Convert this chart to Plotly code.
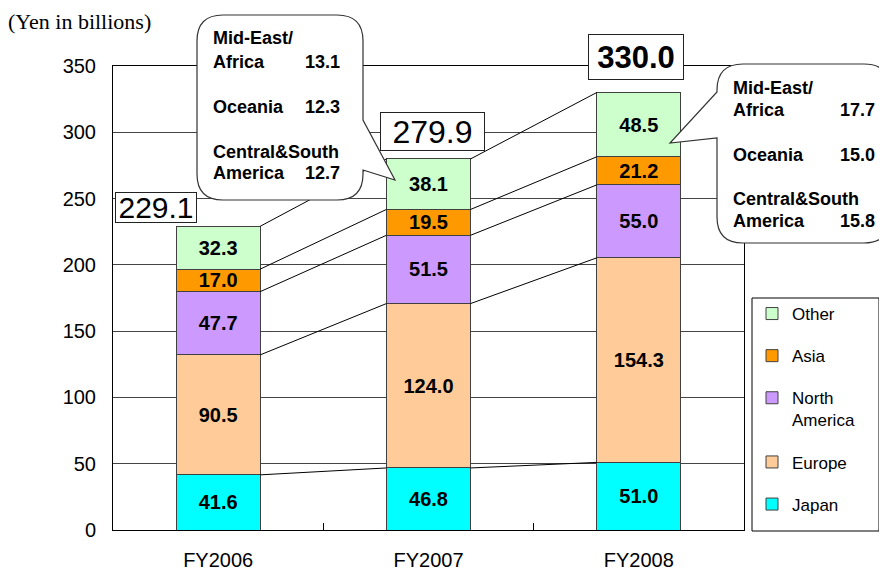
import plotly.graph_objects as go

# ---------------- data ----------------
years = ["FY2006", "FY2007", "FY2008"]
japan = [41.6, 46.8, 51.0]
europe = [90.5, 124.0, 154.3]
north_america = [47.7, 51.5, 55.0]
asia = [17.0, 19.5, 21.2]
other = [32.3, 38.1, 48.5]

breakdown_labels = ["Mid-East/", "Africa", "Oceania", "Central&South", "America"]
breakdown_fy2007 = [13.1, 12.3, 12.7]
breakdown_fy2008 = [17.7, 15.0, 15.8]

series = [
    ("Japan", japan, "#00FFFF"),
    ("Europe", europe, "#FFCC99"),
    ("North<br>America", north_america, "#CC99FF"),
    ("Asia", asia, "#FF9900"),
    ("Other", other, "#CCFFCC"),
]

# ---------------- layout geometry (page pixels) ----------------
OFF = 8                      # default body margin of the page
PW, PH = 887, 571
FW, FH = PW - OFF, PH - OFF  # figure size
L, R, T, B = 113, 744, 66, 530   # plot area in page pixels


def px(x):
    return (x - L) / (R - L)


def py(y):
    return (B - y) / (B - T)


fig = go.Figure()
n = len(series)
for k, (name, vals, col) in enumerate(series):
    fig.add_trace(go.Bar(
        x=years, y=vals, name=name, legendgroup=name, legendrank=n - k,
        marker=dict(color=col, line=dict(color="#404040", width=1)),
        text=[f"{v:.1f}" for v in vals], textposition="inside",
        insidetextanchor="middle", textangle=0,
        textfont=dict(family="Arial, Liberation Sans", size=20, color="black", weight="bold"),
        width=0.4, hoverinfo="skip",
    ))

shapes = []
# connector lines between stack boundaries
cum = []
for i in range(len(years)):
    s = 0
    c = []
    for _, vals, _ in series:
        s += vals[i]
        c.append(s)
    cum.append(c)
for i in range(len(years) - 1):
    for k in range(len(series)):
        shapes.append(dict(type="line", xref="x", yref="y",
                           x0=i + 0.2, x1=i + 0.8, y0=cum[i][k], y1=cum[i + 1][k],
                           line=dict(color="black", width=1)))


def bubble(x0, y0, x1, y1, r, side, ta, tip, tb):
    P = lambda x, y: f"{px(x):.5f},{py(y):.5f}"
    if side == "right":
        d = (f"M{P(x0 + r, y0)} L{P(x1 - r, y0)} Q{P(x1, y0)} {P(x1, y0 + r)} "
             f"L{P(x1, ta)} L{P(*tip)} L{P(x1, tb)} "
             f"L{P(x1, y1 - r)} Q{P(x1, y1)} {P(x1 - r, y1)} L{P(x0 + r, y1)} "
             f"Q{P(x0, y1)} {P(x0, y1 - r)} L{P(x0, y0 + r)} Q{P(x0, y0)} {P(x0 + r, y0)} Z")
    else:
        d = (f"M{P(x0 + r, y0)} L{P(x1 - r, y0)} Q{P(x1, y0)} {P(x1, y0 + r)} "
             f"L{P(x1, y1 - r)} Q{P(x1, y1)} {P(x1 - r, y1)} L{P(x0 + r, y1)} "
             f"Q{P(x0, y1)} {P(x0, y1 - r)} L{P(x0, tb)} L{P(*tip)} L{P(x0, ta)} "
             f"L{P(x0, y0 + r)} Q{P(x0, y0)} {P(x0 + r, y0)} Z")
    return dict(type="path", xref="paper", yref="paper", path=d,
                fillcolor="white", line=dict(color="#333333", width=1.2), layer="above")


shapes.append(bubble(197, 15, 363, 200, 26, "right", 120, (395, 180), 170))
shapes.append(bubble(717, 64, 890, 243, 26, "left", 92, (670, 143), 138))

# legend frame
shapes.append(dict(type="rect", xref="paper", yref="paper",
                   x0=px(752), x1=px(879), y0=py(531), y1=py(298),
                   line=dict(color="black", width=1), fillcolor="rgba(0,0,0,0)", layer="above"))

ann = []
# totals
totals = [round(c[-1], 1) for c in cum]
box_cfg = [
    dict(xshift=-21, yshift=3, xanchor="right", w=80, h=29, size=30, bold=False),
    dict(xshift=4, yshift=8, xanchor="center", w=103, h=37, size=32, bold=False),
    dict(xshift=-3, yshift=13, xanchor="center", w=94, h=44, size=31, bold=True),
]
for i, (t, cfg) in enumerate(zip(totals, box_cfg)):
    ann.append(dict(x=i, y=t, xref="x", yref="y", text=f"{t:.1f}", showarrow=False,
                    xanchor=cfg["xanchor"], yanchor="bottom", xshift=cfg["xshift"], yshift=cfg["yshift"],
                    width=cfg["w"], height=cfg["h"], borderpad=0, bordercolor="#222", borderwidth=1,
                    bgcolor="white",
                    font=dict(family="Arial, Liberation Sans", size=cfg["size"], color="black",
                              weight="bold" if cfg["bold"] else "normal")))

# callout text
bfont = dict(family="Arial, Liberation Sans", size=18, color="black", weight="bold")


def callout(xl, xr, ys, vals):
    for lab, y in zip(breakdown_labels, ys):
        ann.append(dict(x=px(xl), y=py(y), xref="paper", yref="paper", text=lab, showarrow=False,
                        xanchor="left", yanchor="middle", font=bfont))
    for v, y in zip(vals, [ys[1], ys[2], ys[4]]):
        ann.append(dict(x=px(xr), y=py(y), xref="paper", yref="paper", text=f"{v:.1f}", showarrow=False,
                        xanchor="right", yanchor="middle", font=bfont))


callout(211, 342, [38, 62, 107, 152, 173], breakdown_fy2007)
callout(731, 877, [88, 110, 155, 199, 221], breakdown_fy2008)

ann.append(dict(x=px(6), y=py(22), xref="paper", yref="paper", text="(Yen in billions)",
                showarrow=False, xanchor="left", yanchor="middle",
                font=dict(family="Liberation Serif, Times New Roman", size=22, color="black")))

fig.update_layout(
    width=FW, height=FH, barmode="stack",
    margin=dict(l=L - OFF, r=FW - (R - OFF), t=T - OFF, b=FH - (B - OFF), pad=0, autoexpand=False),
    paper_bgcolor="white", plot_bgcolor="white",
    shapes=shapes, annotations=ann,
    uniformtext=dict(minsize=20, mode="show"),
    showlegend=True,
    legend=dict(x=px(752), y=py(296), xanchor="left", yanchor="top",
                traceorder="grouped", tracegroupgap=17, valign="top",
                font=dict(family="Arial, Liberation Sans", size=17, color="black"),
                bgcolor="rgba(0,0,0,0)", borderwidth=0),
    xaxis=dict(type="category", range=[-0.5, 2.5], showgrid=False, showline=True,
               linecolor="black", linewidth=1, mirror=True, ticks="inside", tickson="boundaries",
               ticklen=7, tickcolor="black", automargin=False,
               tickfont=dict(family="Arial, Liberation Sans", size=20, color="black"),
               ticklabelstandoff=12),
    yaxis=dict(range=[0, 350], dtick=50, showgrid=True, gridcolor="#444444", gridwidth=1,
               showline=True, linecolor="black", linewidth=1, mirror=True, zeroline=False,
               ticks="", automargin=False,
               tickfont=dict(family="Arial, Liberation Sans", size=20, color="black"),
               ticklabelstandoff=12),
)

fig.write_html("out.html")
